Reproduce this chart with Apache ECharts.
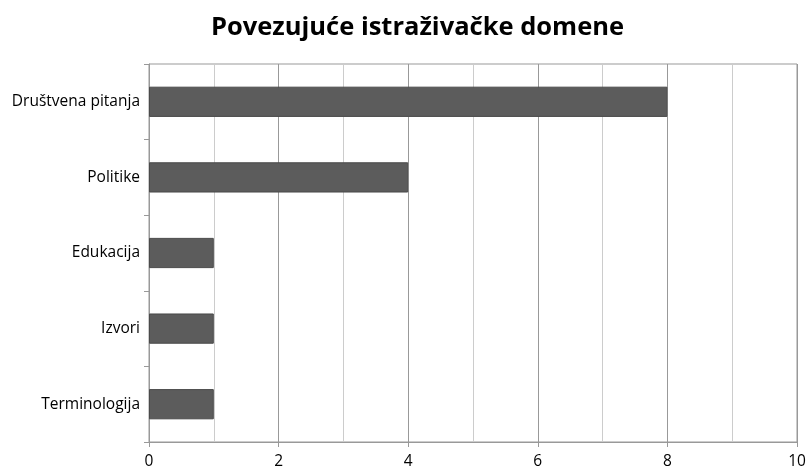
<!DOCTYPE html>
<html>
<head>
<meta charset="utf-8">
<script src="https://cdn.jsdelivr.net/npm/echarts@6/dist/echarts.min.js"></script>
<style>
  html, body { margin: 0; padding: 0; background: #fff; }
  #chart { width: 810px; height: 472px; }
</style>
</head>
<body>
<div id="chart"></div>
<script>
// Data
const categories = ["Društvena pitanja", "Politike", "Edukacija", "Izvori", "Terminologija"];
const counts = [8, 4, 1, 1, 1];
const xTicks = [0, 2, 4, 6, 8, 10];

const chart = echarts.init(document.getElementById("chart"));
chart.setOption({
  animation: false,
  title: {
    text: "Povezujuće istraživačke domene",
    left: 206,
    top: 10,
    textStyle: {
      fontFamily: "Open Sans",
      fontWeight: "bold",
      fontSize: 25.5,
      color: "#000",
    },
  },
  grid: {
    left: 149,
    right: 13,
    top: 64,
    bottom: 30,
    show: true,
    borderColor: "#999",
    borderWidth: 1,
  },
  xAxis: {
    type: "value",
    min: xTicks[0],
    max: xTicks[xTicks.length - 1],
    interval: 2,
    axisLine: { show: true, lineStyle: { color: "#999" } },
    axisTick: { show: true, length: 5, lineStyle: { color: "#999" } },
    axisLabel: {
      margin: 12,
      fontFamily: "Open Sans",
      fontSize: 15.5,
      color: "#000",
    },
    splitLine: { show: true, lineStyle: { color: "#999" } },
    minorTick: { show: false, splitNumber: 2 },
    minorSplitLine: { show: true, lineStyle: { color: "#ccc" } },
  },
  yAxis: {
    type: "category",
    data: categories,
    inverse: true,
    axisLine: { show: true, lineStyle: { color: "#999" } },
    axisTick: { show: true, length: 5, lineStyle: { color: "#999" } },
    axisLabel: {
      margin: 9,
      fontFamily: "Open Sans",
      fontSize: 15.5,
      color: "#000",
    },
  },
  series: [
    {
      type: "bar",
      data: counts,
      barCategoryGap: "60%",
      itemStyle: { color: "#5c5c5c", borderColor: "#4a4a4a", borderWidth: 1 },
    },
  ],
});
</script>
</body>
</html>
